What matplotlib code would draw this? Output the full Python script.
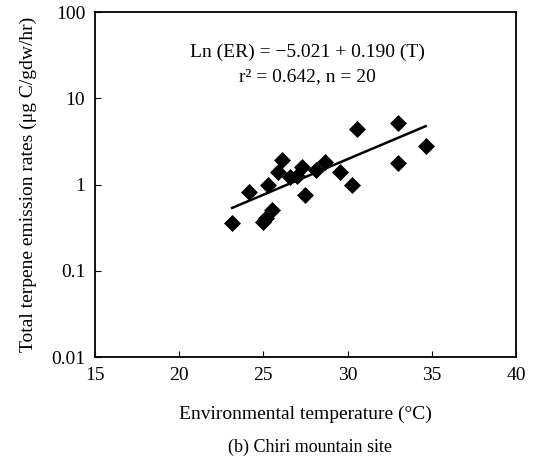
import matplotlib
matplotlib.use("Agg")
import matplotlib.pyplot as plt
import numpy as np

plt.rcParams['font.family'] = ['Liberation Serif', 'DejaVu Serif']

temperature = [23.15, 24.16, 25.0, 25.15, 25.5, 25.3, 26.1, 25.9, 26.6, 27.3,
               27.0, 28.1, 28.66, 27.5, 29.55, 30.24, 30.58, 33.0, 33.0, 34.64]
emission = [0.355, 0.83, 0.37, 0.41, 0.51, 0.98, 1.92, 1.40, 1.22, 1.6,
            1.25, 1.47, 1.84, 0.76, 1.40, 1.0, 4.47, 5.2, 1.8, 2.84]
intercept, slope = -5.021, 0.190

x_ticks = [15, 20, 25, 30, 35, 40]
y_ticks = [0.01, 0.1, 1, 10, 100]
y_ticklabels = ['0.01', '0.1', '1', '10', '100']

fig = plt.figure(figsize=(5.33, 4.65), dpi=100)
ax = fig.add_axes([0.178, 0.232, 0.790, 0.742])

ax.plot(temperature, emission, linestyle='none', marker='D', markersize=8,
        color='black', markeredgewidth=0.5)
tl = np.array([min(temperature), max(temperature)])
ax.plot(tl, np.exp(intercept + slope * tl), color='black', linewidth=1.8)

ax.set_yscale('log')
ax.set_xlim(15, 40)
ax.set_ylim(0.01, 100)
ax.set_xticks(x_ticks)
ax.set_xticklabels([str(t) for t in x_ticks])
ax.set_yticks(y_ticks)
ax.set_yticklabels(y_ticklabels)
ax.yaxis.set_minor_locator(matplotlib.ticker.NullLocator())
ax.tick_params(direction='in', length=4, width=0.8, labelsize=14, pad=7)
for s in ax.spines.values():
    s.set_linewidth(1.3)

ax.set_xlabel('Environmental temperature (°C)', fontsize=14, labelpad=16)
ax.set_ylabel('Total terpene emission rates (μg C/gdw/hr)', fontsize=14, labelpad=10)

ax.text(0.504, 0.884, 'Ln (ER) = −5.021 + 0.190 (T)', transform=ax.transAxes,
        ha='center', va='center', fontsize=14)
ax.text(0.504, 0.812, 'r² = 0.642, n = 20', transform=ax.transAxes,
        ha='center', va='center', fontsize=14)

fig.text(0.582, 0.038, '(b) Chiri mountain site', ha='center', va='center', fontsize=13)

fig.savefig('out.png', dpi=100)
